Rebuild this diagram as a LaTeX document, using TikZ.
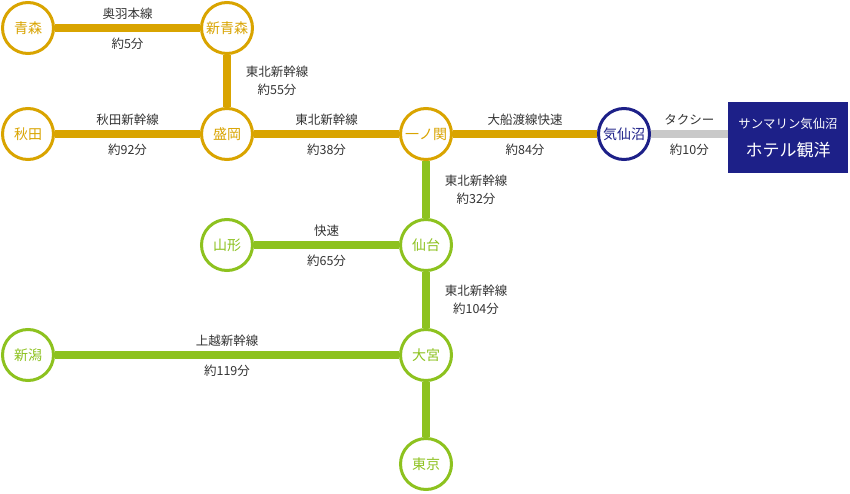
\documentclass[tikz,border=0pt]{standalone}
\usepackage{fontspec}
\setmainfont{Noto Sans CJK JP}
\definecolor{gold}{HTML}{D9A400}
\definecolor{leaf}{HTML}{8DC21F}
\definecolor{navy}{HTML}{1D2088}
\definecolor{ash}{HTML}{C9C9C9}
\definecolor{ink}{HTML}{333333}
\tikzstyle{station}=[circle, line width=3pt, fill=white, minimum size=51pt, inner sep=0pt, font=\fontsize{14}{14}\selectfont]
\tikzstyle{rail}=[line width=8pt]
\tikzstyle{info}=[text=ink, font=\fontsize{12.5}{18}\selectfont, align=center, inner sep=0pt]
\begin{document}
\begin{tikzpicture}[x=1pt, y=-1pt]
\useasboundingbox (0,0) rectangle (850,494);
% Stations
    \node[station, draw=gold, text=gold] (aomori) at (28,28) {青森};
    \node[station, draw=gold, text=gold] (shinaomori) at (227,28) {新青森};
    \node[station, draw=gold, text=gold] (akita) at (28,134) {秋田};
    \node[station, draw=gold, text=gold] (morioka) at (227,134) {盛岡};
    \node[station, draw=gold, text=gold] (ichinoseki) at (426,134) {一ノ関};
    \node[station, draw=navy, text=navy] (kesennuma) at (624,134) {気仙沼};
    \node[station, draw=leaf, text=leaf] (yamagata) at (227,245) {山形};
    \node[station, draw=leaf, text=leaf] (sendai) at (426,245) {仙台};
    \node[station, draw=leaf, text=leaf] (niigata) at (28,355) {新潟};
    \node[station, draw=leaf, text=leaf] (omiya) at (426,355) {大宮};
    \node[station, draw=leaf, text=leaf] (tokyo) at (426,464) {東京};
% Hotel
    \node[fill=navy, minimum width=120pt, minimum height=71pt, inner sep=0pt, text=white, align=center,
          font=\fontsize{17}{28}\selectfont] (hotel) at (788,138)
          {{\fontsize{12.4}{12.4}\selectfont サンマリン気仙沼}\\ホテル観洋};
% Lines
    \draw[rail, gold] (aomori) -- (shinaomori)
        node[info, midway, yshift=14pt] {奥羽本線}
        node[info, midway, yshift=-16pt] {約5分};
    \draw[rail, gold] (shinaomori) -- (morioka)
        node[info, midway, xshift=50pt] {東北新幹線\\約55分};
    \draw[rail, gold] (akita) -- (morioka)
        node[info, midway, yshift=14pt] {秋田新幹線}
        node[info, midway, yshift=-16pt] {約92分};
    \draw[rail, gold] (morioka) -- (ichinoseki)
        node[info, midway, yshift=14pt] {東北新幹線}
        node[info, midway, yshift=-16pt] {約38分};
    \draw[rail, gold] (ichinoseki) -- (kesennuma)
        node[info, midway, yshift=14pt] {大船渡線快速}
        node[info, midway, yshift=-16pt] {約84分};
    \draw[rail, ash] (kesennuma) -- (hotel.west |- kesennuma)
        node[info, midway, yshift=14pt] {タクシー}
        node[info, midway, yshift=-16pt] {約10分};
    \draw[rail, leaf] (ichinoseki) -- (sendai)
        node[info, midway, xshift=50pt] {東北新幹線\\約32分};
    \draw[rail, leaf] (yamagata) -- (sendai)
        node[info, midway, yshift=14pt] {快速}
        node[info, midway, yshift=-16pt] {約65分};
    \draw[rail, leaf] (sendai) -- (omiya)
        node[info, midway, xshift=50pt] {東北新幹線\\約104分};
    \draw[rail, leaf] (niigata) -- (omiya)
        node[info, midway, yshift=14pt] {上越新幹線}
        node[info, midway, yshift=-16pt] {約119分};
    \draw[rail, leaf] (omiya) -- (tokyo);
\end{tikzpicture}
\end{document}
